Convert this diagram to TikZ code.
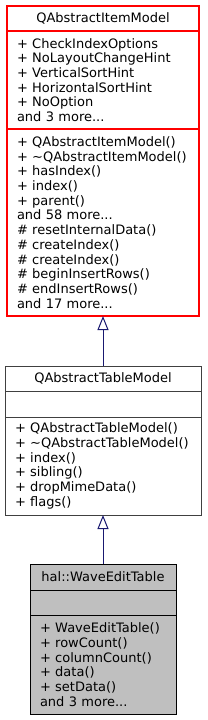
\documentclass[tikz,border=0pt]{standalone}
\usepackage{fontspec}
\setmainfont{DejaVu Sans}
\usepackage{tikz}
\usetikzlibrary{arrows.meta, positioning}

\definecolor{edgeblue}{HTML}{191970}
\definecolor{truncred}{HTML}{FF0000}
\definecolor{boxgray}{HTML}{404040}
\definecolor{curfill}{HTML}{BFBFBF}

\begin{document}
\begin{tikzpicture}[x=1pt, y=1pt,
    class title/.style={draw=boxgray, line width=1pt, outer sep=0pt, anchor=north west, inner xsep=10pt, inner ysep=0pt,
        font=\fontsize{13}{14.7}\selectfont, align=center},
    class part/.style={draw=boxgray, line width=1pt, outer sep=0pt, inner xsep=10pt, inner ysep=0pt,
        font=\fontsize{13}{14.7}\selectfont, align=left},
    inherit/.style={draw=edgeblue, line width=1pt, {Triangle[open, length=14pt, width=11pt]}-}]
    \useasboundingbox (0,0) rectangle (207,-720);

    % QAbstractItemModel (truncated, red)
    \node[class title, draw=truncred, line width=1.3pt, text width=172pt, minimum height=25pt] (itemtitle) at (7,-6) {QAbstractItemModel};
    \node[class part, draw=truncred, line width=1.3pt, text width=172pt, minimum height=98pt, below=0pt of itemtitle] (itemattr)
        {+ CheckIndexOptions\\+ NoLayoutChangeHint\\+ VerticalSortHint\\+ HorizontalSortHint\\+ NoOption\\and 3 more...};
    \node[class part, draw=truncred, line width=1.3pt, text width=172pt, minimum height=187pt, below=0pt of itemattr] (itemops)
        {+ QAbstractItemModel()\\+ \textasciitilde QAbstractItemModel()\\+ hasIndex()\\+ index()\\+ parent()\\and 58 more...\\%
         \# resetInternalData()\\\# createIndex()\\\# createIndex()\\\# beginInsertRows()\\\# endInsertRows()\\and 17 more...};

    % QAbstractTableModel
    \node[class title, text width=176pt, minimum height=25pt] (tabletitle) at (5,-366) {QAbstractTableModel};
    \node[class part, text width=176pt, minimum height=26pt, below=0pt of tabletitle] (tableattr) {};
    \node[class part, text width=176pt, minimum height=98pt, below=0pt of tableattr] (tableops)
        {+ QAbstractTableModel()\\+ \textasciitilde QAbstractTableModel()\\+ index()\\+ sibling()\\+ dropMimeData()\\+ flags()};

    % hal::WaveEditTable
    \node[class title, fill=curfill, draw=black, text width=126pt, minimum height=26pt] (wavetitle) at (30,-564) {hal::WaveEditTable};
    \node[class part, fill=curfill, draw=black, text width=126pt, minimum height=25pt, below=0pt of wavetitle] (waveattr) {};
    \node[class part, fill=curfill, draw=black, text width=126pt, minimum height=99pt, below=0pt of waveattr] (waveops)
        {+ WaveEditTable()\\+ rowCount()\\+ columnCount()\\+ data()\\+ setData()\\and 3 more...};

    \draw[inherit] (itemops.south) -- (tabletitle.north);
    \draw[inherit] (tableops.south) -- (wavetitle.north);
\end{tikzpicture}
\end{document}
